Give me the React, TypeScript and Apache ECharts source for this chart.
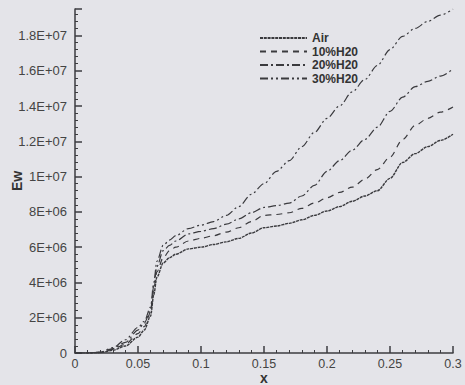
import React, { useEffect, useRef } from "react";
import * as echarts from "echarts";

const xs = [0, 0.01, 0.02, 0.03, 0.04, 0.05, 0.055, 0.06, 0.0625, 0.065, 0.07, 0.075, 0.08, 0.09, 0.1, 0.11, 0.12, 0.13, 0.14, 0.15, 0.16, 0.17, 0.18, 0.19, 0.2, 0.21, 0.22, 0.23, 0.24, 0.25, 0.26, 0.27, 0.28, 0.29, 0.3];

// values in units of 1E+06
const air = [0, 0, 0.02, 0.15, 0.4, 0.9, 1.3, 2.1, 3.3, 4.3, 5.1, 5.4, 5.6, 5.9, 6.0, 6.15, 6.3, 6.5, 6.8, 7.1, 7.2, 7.35, 7.55, 7.8, 8.05, 8.3, 8.6, 8.9, 9.2, 9.9, 10.8, 11.3, 11.7, 12.05, 12.4];
const h10 = [0, 0, 0.03, 0.2, 0.5, 1.1, 1.5, 2.3, 3.6, 4.6, 5.4, 5.8, 6.0, 6.35, 6.5, 6.65, 6.85, 7.1, 7.45, 7.8, 7.85, 7.95, 8.2, 8.5, 8.8, 9.1, 9.4, 9.85, 10.4, 11.1, 12.1, 12.9, 13.3, 13.65, 13.95];
const h20 = [0, 0, 0.04, 0.25, 0.6, 1.3, 1.7, 2.4, 3.8, 4.9, 5.8, 6.1, 6.35, 6.75, 6.9, 7.05, 7.3, 7.6, 7.95, 8.25, 8.35, 8.5, 8.9, 9.5, 10.3, 10.9, 11.5, 12.1, 12.8, 13.7, 14.5, 15.1, 15.4, 15.7, 16.1];
const h30 = [0, 0, 0.05, 0.3, 0.75, 1.45, 1.8, 2.6, 4.0, 5.2, 6.1, 6.4, 6.65, 7.05, 7.25, 7.45, 7.8, 8.3, 9.0, 9.6, 10.3, 10.9, 11.7, 12.5, 13.3, 14.0, 14.8, 15.5, 16.3, 17.2, 17.95, 18.4, 18.8, 19.15, 19.5];

const seriesNames = ["Air", "10%H20", "20%H20", "30%H20"];
const xTickLabels = ["0", "0.05", "0.1", "0.15", "0.2", "0.25", "0.3"];

const fmtE = (v: number) => {
  if (v === 0) return "0";
  const exp = Math.floor(Math.log10(v) + 1e-9);
  const m = +(v / Math.pow(10, exp)).toFixed(2);
  return `${m}E+${String(exp).padStart(2, "0")}`;
};

export default function App() {
  const ref = useRef<HTMLDivElement>(null);
  useEffect(() => {
    const chart = echarts.init(ref.current!, null, { renderer: "svg" });
    const ink = "#3c3c40";
    const mk = (arr: number[]) => xs.map((x, i) => [x, arr[i] * 1e6]);
    const styles: any[] = [
      { type: [3, 0.8], width: 1.4 },
      { type: [6, 5], width: 1.2 },
      { type: [8, 3, 2, 3], width: 1.2 },
      { type: [8, 3, 2, 3, 2, 3], width: 1.2 },
    ];
    const datas = [air, h10, h20, h30];
    chart.setOption({
      animation: false,
      backgroundColor: "#e4e4e9",
      grid: { left: 75, right: 12, top: 9, bottom: 32, containLabel: false, outerBoundsMode: "none" },
      legend: {
        orient: "vertical",
        left: 259,
        top: 32,
        padding: 0,
        itemWidth: 47,
        itemHeight: 11,
        itemGap: 1.5,
        data: seriesNames,
        itemStyle: { opacity: 0 },
        textStyle: { fontFamily: "Liberation Sans, Arial, sans-serif", fontWeight: "bold", fontSize: 12, color: "#333" },
      },
      xAxis: {
        type: "value",
        min: 0,
        max: 0.3,
        interval: 0.05,
        name: "x",
        nameLocation: "middle",
        nameGap: 18,
        nameMoveOverlap: false,
        nameTextStyle: { fontFamily: "Liberation Sans, Arial, sans-serif", fontWeight: "bold", fontSize: 14, color: "#333" },
        axisLine: { show: true, lineStyle: { color: ink, width: 1.5 } },
        axisTick: { show: true, inside: true, length: 7, lineStyle: { color: ink, width: 1.5 } },
        minorTick: { show: true, splitNumber: 5, length: 3, lineStyle: { color: ink, width: 1 } },
        splitLine: { show: false },
        axisLabel: {
          margin: 4,
          fontFamily: "Liberation Sans, Arial, sans-serif",
          fontSize: 12.5,
          color: "#444",
          formatter: (v: number) => xTickLabels[Math.round(v / 0.05)] ?? String(v),
        },
      },
      yAxis: {
        type: "value",
        min: 0,
        max: 1.95e7,
        interval: 2e6,
        name: "Ew",
        nameLocation: "middle",
        nameRotate: 90,
        nameGap: 51,
        nameMoveOverlap: false,
        nameTextStyle: { fontFamily: "Liberation Sans, Arial, sans-serif", fontWeight: "bold", fontSize: 14, color: "#333" },
        axisLine: { show: true, lineStyle: { color: ink, width: 1.5 } },
        axisTick: { show: true, inside: true, length: 7, lineStyle: { color: ink, width: 1.5 } },
        minorTick: { show: true, splitNumber: 5, length: 3, lineStyle: { color: ink, width: 1 } },
        splitLine: { show: false },
        axisLabel: {
          margin: 8,
          showMaxLabel: false,
          fontFamily: "Liberation Sans, Arial, sans-serif",
          fontSize: 13,
          color: "#444",
          formatter: fmtE,
        },
      },
      series: datas.map((d, i) => ({
        name: seriesNames[i],
        type: "line",
        data: mk(d),
        symbol: "none",
        showSymbol: false,
        smooth: 0.3,
        smoothMonotone: "x",
        color: "#3a3a3e",
        lineStyle: { color: "#3a3a3e", ...styles[i] },
      })),
    });
    return () => chart.dispose();
  }, []);
  return <div ref={ref} style={{ width: 465, height: 385, position: "fixed", left: 0, top: 0 }} />;
}
